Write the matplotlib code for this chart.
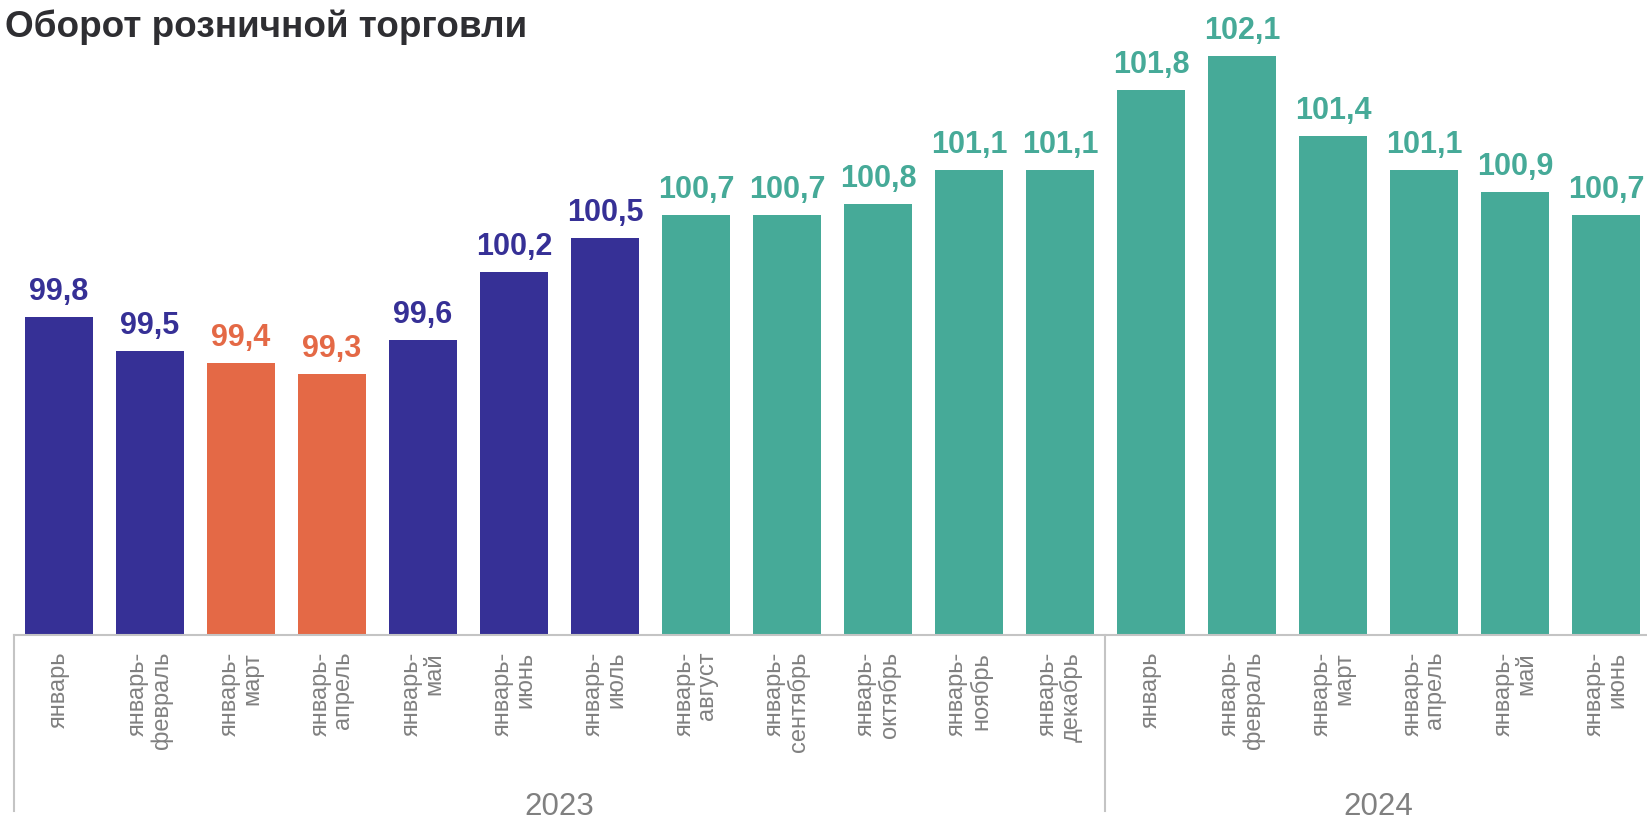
import matplotlib
matplotlib.use("Agg")
import matplotlib.pyplot as plt
import matplotlib.transforms as mtransforms

plt.rcParams['font.family'] = ['Liberation Sans', 'DejaVu Sans']

title = "Оборот розничной торговли"
months = ["январь", "январь-\nфевраль", "январь-\nмарт", "январь-\nапрель", "январь-\nмай",
          "январь-\nиюнь", "январь-\nиюль", "январь-\nавгуст", "январь-\nсентябрь",
          "январь-\nоктябрь", "январь-\nноябрь", "январь-\nдекабрь",
          "январь", "январь-\nфевраль", "январь-\nмарт", "январь-\nапрель", "январь-\nмай",
          "январь-\nиюнь"]
values = [99.8, 99.5, 99.4, 99.3, 99.6, 100.2, 100.5, 100.7, 100.7, 100.8, 101.1, 101.1,
          101.8, 102.1, 101.4, 101.1, 100.9, 100.7]
years = ["2023", "2024"]
year_counts = [12, 6]

NAVY = "#363096"
ORANGE = "#E46946"
TEAL = "#46AA98"
colors = [NAVY] * 2 + [ORANGE] * 2 + [NAVY] * 3 + [TEAL] * 11

W, H = 1647, 820
fig = plt.figure(figsize=(W / 100, H / 100), dpi=100)
axis_y = 636
left_px = 13.5
pitch = 91
ax = fig.add_axes([left_px / W, (H - axis_y) / H, pitch * len(values) / W, axis_y / H])

x = list(range(len(values)))
ax.bar(x, values, width=0.75, color=colors, zorder=2)
ax.set_xlim(-0.5, len(values) - 0.5)
ax.set_ylim(97, 97 + axis_y / 113.5)

for s in ['top', 'left', 'right']:
    ax.spines[s].set_visible(False)
ax.spines['bottom'].set_color('#C4C4C4')
ax.spines['bottom'].set_linewidth(1.5)
ax.set_yticks([])
ax.set_xticks(x)
ax.set_xticklabels(months, rotation=90, ha='center', va='top', multialignment='right',
                   fontsize=17, color='#808080', linespacing=1.05)
ax.tick_params(axis='x', length=0, pad=11.5)

for xi, v, c in zip(x, values, colors):
    ax.annotate(f"{v:.1f}".replace('.', ','), (xi, v), xytext=(0, 13), textcoords='offset points',
                ha='center', va='baseline', fontsize=22, fontweight='bold', color=c)

trans = mtransforms.blended_transform_factory(ax.transData, ax.transAxes)
start = -0.5
for yr, n in zip(years, year_counts):
    ax.plot([start, start], [0, -(812 - axis_y) / axis_y], transform=trans, color='#C4C4C4',
            lw=1.5, clip_on=False)
    ax.text(start + n / 2, -(815 - axis_y) / axis_y, yr, transform=trans, ha='center',
            va='baseline', fontsize=22.5, color='#808080')
    start += n

fig.text(5 / W, 1 - 37 / H, title, fontsize=26.6, fontweight='bold', color='#2E2E32', va='baseline')

fig.savefig("out.png", dpi=100)
